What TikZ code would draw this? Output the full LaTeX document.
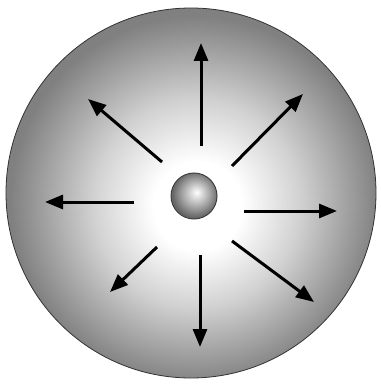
\documentclass[tikz,border=0pt]{standalone}
\usetikzlibrary{arrows.meta}
\pgfdeclareradialshading{bigsphere}{\pgfpoint{1bp}{-2bp}}{color(0bp)=(white); color(6bp)=(white); color(14bp)=(black!18); color(25bp)=(black!50); color(50bp)=(black!50)}
\pgfdeclareradialshading{smallball}{\pgfpoint{3bp}{4bp}}{color(0bp)=(white); color(16bp)=(black!38); color(25bp)=(black!60); color(50bp)=(black!60)}
\begin{document}
\begin{tikzpicture}[x=1pt,y=-1pt,
  arr/.style={line width=3pt,-{Triangle[length=18pt,width=14pt]}}]
\useasboundingbox (0,0) rectangle (380,385);
\node[circle, minimum size=370pt, inner sep=0pt, shading=bigsphere, draw=black!80, line width=0.8pt] (sphere) at (191,193) {};
\node[circle, minimum size=46pt, inner sep=0pt, shading=smallball, draw=black!75, line width=1pt] (ball) at (194,196) {};
% arrow coordinates
\coordinate (us) at (201,146); \coordinate (ue) at (201,43);
\coordinate (urs) at (232,166); \coordinate (ure) at (303,94);
\coordinate (rs) at (244,211); \coordinate (re) at (337,211);
\coordinate (lrs) at (232,241); \coordinate (lre) at (314,302);
\coordinate (ds) at (200,255); \coordinate (de) at (200,347);
\coordinate (lls) at (157,247); \coordinate (lle) at (110,292);
\coordinate (ls) at (134,202); \coordinate (le) at (45,202);
\coordinate (uls) at (162,162); \coordinate (ule) at (88,99);
\draw[arr] (us) -- (ue);
\draw[arr] (urs) -- (ure);
\draw[arr] (rs) -- (re);
\draw[arr] (lrs) -- (lre);
\draw[arr] (ds) -- (de);
\draw[arr] (lls) -- (lle);
\draw[arr] (ls) -- (le);
\draw[arr] (uls) -- (ule);
\end{tikzpicture}
\end{document}
